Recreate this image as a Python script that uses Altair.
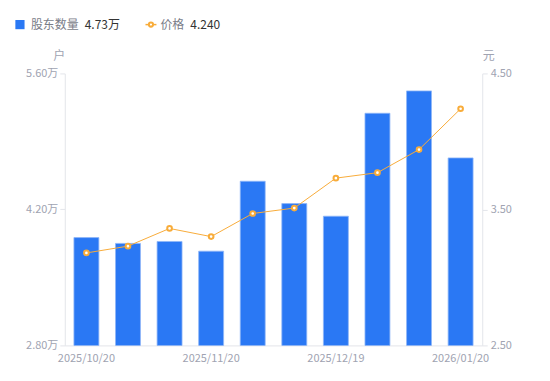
import altair as alt
import pandas as pd

dates = ["2025/10/20", "2025/10/31", "2025/11/10", "2025/11/20", "2025/11/28",
         "2025/12/10", "2025/12/19", "2025/12/31", "2026/01/09", "2026/01/20"]
holders = [3.91, 3.85, 3.87, 3.77, 4.49, 4.26, 4.13, 5.19, 5.42, 4.73]
price = [3.18, 3.23, 3.36, 3.30, 3.47, 3.51, 3.73, 3.77, 3.94, 4.24]
shown_dates = [dates[0], dates[3], dates[6], dates[9]]
left_ticks = [2.8, 4.2, 5.6]
right_ticks = [2.5, 3.5, 4.5]

legend_names = ["股东数量", "价格"]
legend_values = ["4.73万", "4.240"]

FONT = "Noto Sans CJK SC"
BLUE = "#2A78F4"
ORANGE = "#F8AC3A"
GREY = "#A0A3B1"
AXIS = "#E3E5EA"

df = pd.DataFrame({"date": dates, "holders": holders, "price": price})

x = alt.X("date:N", sort=dates, title=None,
          scale=alt.Scale(paddingInner=0.4, paddingOuter=0.22),
          axis=alt.Axis(values=shown_dates, labelAngle=0, ticks=False,
                        domainColor=AXIS, labelColor=GREY, labelFontSize=11,
                        labelFont=FONT, labelPadding=7, labelOverlap=False))

bars = alt.Chart(df).mark_bar(color=BLUE, stroke="#8FB6F7", strokeWidth=0.8, clip=True).encode(
    x=x,
    y=alt.Y("holders:Q", title="户",
            scale=alt.Scale(domain=[2.8, 5.6], nice=False, zero=False),
            axis=alt.Axis(values=left_ticks, labelExpr="format(datum.value, '.2f') + '万'",
                          grid=False, domainColor=AXIS, tickColor=AXIS, tickSize=5,
                          labelColor=GREY, labelFontSize=11, labelFont=FONT, labelPadding=2,
                          titleAngle=0, titleX=-6, titleY=-11, titleAlign="center",
                          titleColor=GREY, titleFont=FONT, titleFontSize=12,
                          titleFontWeight="normal"))
)

py = alt.Y("price:Q", title="元",
           scale=alt.Scale(domain=[2.5, 4.5], nice=False, zero=False),
           axis=alt.Axis(orient="right", values=right_ticks, format=".2f",
                         grid=False, domainColor=AXIS, tickColor=AXIS, tickSize=5,
                         labelColor=GREY, labelFontSize=11, labelFont=FONT, labelPadding=3,
                         titleAngle=0, titleX=6, titleY=-11, titleAlign="center",
                         titleColor=GREY, titleFont=FONT, titleFontSize=12,
                         titleFontWeight="normal"))

line = alt.Chart(df).mark_line(color=ORANGE, strokeWidth=1).encode(x=x, y=py)

points = alt.Chart(df).mark_point(filled=True, fill="white", stroke=ORANGE,
                                  strokeWidth=2, size=22, opacity=1).encode(x=x, y=py)

price_layer = alt.layer(line, points)

leg_df = pd.DataFrame({"name": legend_names, "val": legend_values})

sq = alt.Chart(pd.DataFrame({"a": [0]})).mark_square(color=BLUE, size=85, opacity=1).encode(
    x=alt.value(-45), y=alt.value(-49))
oline = alt.Chart(pd.DataFrame({"a": [0]})).mark_rule(color=ORANGE, strokeWidth=1.5).encode(
    x=alt.value(81), x2=alt.value(92), y=alt.value(-49))
ocirc = alt.Chart(pd.DataFrame({"a": [0]})).mark_point(filled=True, fill="white", stroke=ORANGE,
                                                        strokeWidth=2, size=18, opacity=1).encode(
    x=alt.value(86.5), y=alt.value(-49))
t1 = alt.Chart(leg_df.iloc[[0]]).mark_text(align="left", baseline="middle", font=FONT,
                                           fontSize=12, color="#7A7D88").encode(
    x=alt.value(-34), y=alt.value(-49), text="name:N")
t2 = alt.Chart(leg_df.iloc[[0]]).mark_text(align="left", baseline="middle", font=FONT,
                                           fontSize=12, color="#333333").encode(
    x=alt.value(20), y=alt.value(-49), text="val:N")
t3 = alt.Chart(leg_df.iloc[[1]]).mark_text(align="left", baseline="middle", font=FONT,
                                           fontSize=12, color="#7A7D88").encode(
    x=alt.value(96), y=alt.value(-49), text="name:N")
t4 = alt.Chart(leg_df.iloc[[1]]).mark_text(align="left", baseline="middle", font=FONT,
                                           fontSize=12, color="#333333").encode(
    x=alt.value(126), y=alt.value(-49), text="val:N")

legend = alt.layer(sq, oline, ocirc, t1, t2, t3, t4)

chart = alt.layer(bars, price_layer, legend).resolve_scale(y="independent").properties(
    width=419, height=273,
    padding={"left": 57, "top": 65, "right": 60, "bottom": 20},
    autosize=alt.AutoSizeParams(type="none"),
).configure(font=FONT).configure_view(stroke="transparent", strokeWidth=0)

chart.save("out.html", embed_options={"renderer": "svg", "actions": False})
